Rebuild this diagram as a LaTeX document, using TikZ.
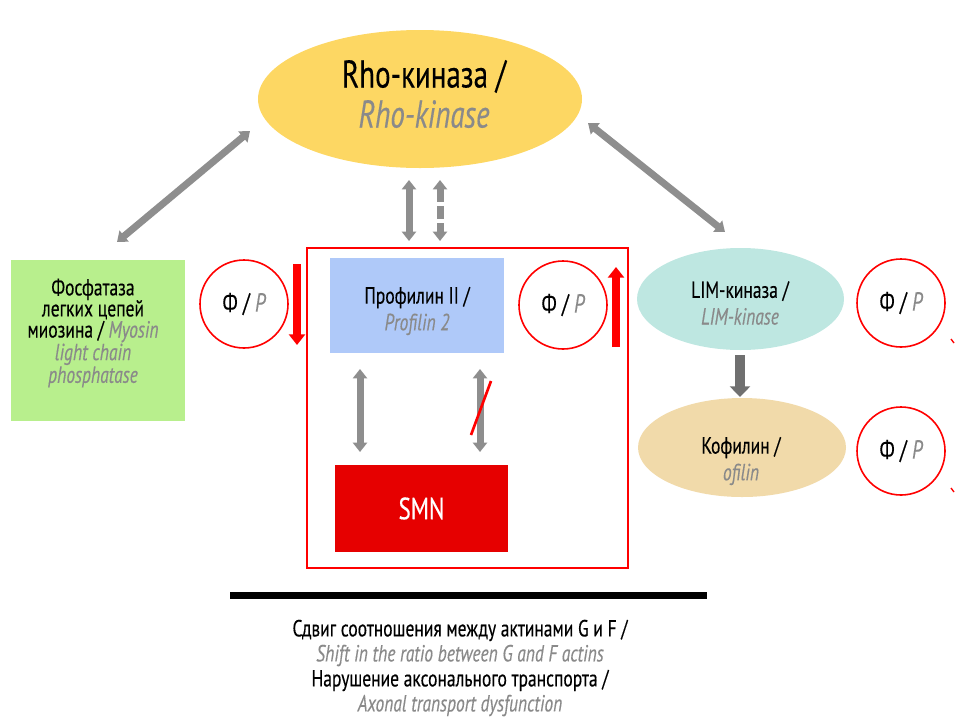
\documentclass[tikz,border=0pt]{standalone}
\usepackage{fontspec}
\setmainfont{PT Sans}[FakeStretch=0.75,FakeBold=0.3]
\usetikzlibrary{arrows.meta,shapes.geometric}
\definecolor{rhoY}{HTML}{FDD763}
\definecolor{mlcG}{HTML}{B8EF8D}
\definecolor{profB}{HTML}{AFC9F9}
\definecolor{limT}{HTML}{BEE7E1}
\definecolor{cofT}{HTML}{F1DAAA}
\definecolor{arrG}{HTML}{8E8E8E}
\definecolor{arrD}{HTML}{707070}
\definecolor{txtG}{HTML}{8A8A8A}
\definecolor{redL}{HTML}{FF0000}
\definecolor{smnR}{HTML}{E60000}
\newcommand{\en}[1]{{\color{txtG}\itshape #1}}
\newcommand{\fp}{Ф / \en{P}}
\tikzset{
  sz/.style={font=\fontsize{17.5}{20}\selectfont},
  phos/.style={circle, draw=redL, line width=1.2pt, minimum size=66pt, inner sep=0pt,
               font=\fontsize{19.5}{20}\selectfont},
  dbl/.style={arrG, line width=5.25pt, {Triangle[width=10.5pt,length=7pt]}-{Triangle[width=10.5pt,length=7pt]}},
  redarr/.style={redL, line width=6pt, -{Triangle[width=12pt,length=8pt]}},
}
\begin{document}
\begin{tikzpicture}[x=0.75pt,y=-0.75pt]
\useasboundingbox (0,0) rectangle (955,718);

% Rho-kinase
\node[ellipse, fill=rhoY, minimum width=243pt, minimum height=103.5pt, inner sep=0pt] (rho) at (420,99) {};
\node[align=center, font=\fontsize{29}{30}\selectfont] (rhot) at (424,94) {Rho-киназа /\\ \en{Rho-kinase}};

% MLC phosphatase
\node[fill=mlcG, minimum width=130.5pt, minimum height=120.75pt, inner sep=0pt] (mlc) at (98,340.5) {};
\node[align=center, font=\fontsize{17.5}{15.8}\selectfont] (mlct) at (93,333) {Фосфатаза\\легких цепей\\миозина / \en{Myosin}\\\en{light chain}\\\en{phosphatase}};

% frame
\draw[redL, line width=1.2pt] (307,248) rectangle (628,568);

% Profilin
\node[fill=profB, minimum width=130.5pt, minimum height=71.25pt, inner sep=0pt] (prof) at (417,305.5) {};
\node[align=center, sz] (proft) at (417,311) {Профилин II /\\ \en{Profilin 2}};

% SMN
\node[fill=smnR, minimum width=129.75pt, minimum height=65.25pt, inner sep=0pt, text=white,
      font=\fontsize{23}{24}\selectfont] (smn) at (421.5,508.5) {SMN};

% LIM kinase and cofilin
\node[ellipse, fill=limT, minimum width=155.25pt, minimum height=76.5pt, inner sep=0pt] (lim) at (740.5,299) {};
\node[align=center, sz] (limt) at (740,303) {LIM-киназа /\\ \en{LIM-kinase}};
\node[ellipse, fill=cofT, minimum width=156pt, minimum height=74.25pt, inner sep=0pt] (cof) at (742,447.5) {};
\node[align=center, sz] (coft) at (741,461) {Кофилин /\\ \en{ofilin}};

% phosphorylation circles
\node[phos] (p1) at (244,304) {\fp};
\node[phos] (p2) at (563,305) {\fp};
\node[phos] (p3) at (901,303) {\fp};
\node[phos] (p4) at (901,451) {\fp};

% gray double arrows
\coordinate (rl) at (250,131); \coordinate (ml) at (117,242);
\coordinate (rr) at (588,123); \coordinate (lr) at (725,232);
\draw[dbl] (rl) -- (ml);
\draw[dbl] (rr) -- (lr);
\coordinate (v1a) at (409,180); \coordinate (v1b) at (409,241);
\coordinate (v2a) at (440,180); \coordinate (v2b) at (440,241);
\draw[dbl] (v1a) -- (v1b);
\draw[dbl, dash pattern=on 10pt off 3pt, dash phase=0pt] (v2a) -- (v2b);
\coordinate (s1a) at (360,369); \coordinate (s1b) at (360,452);
\coordinate (s2a) at (480,369); \coordinate (s2b) at (480,452);
\draw[dbl] (s1a) -- (s1b);
\draw[dbl] (s2a) -- (s2b);
\draw[redL, line width=2pt] (471,435) -- (491,381);

% LIM -> cofilin
\coordinate (la) at (740,355); \coordinate (lb) at (740,397);
\draw[arrD, line width=7.5pt, -{Triangle[width=15pt,length=8pt]}] (la) -- (lb);

% red arrows
\coordinate (d1a) at (297,264); \coordinate (d1b) at (297,345);
\draw[redarr] (d1a) -- (d1b);
\coordinate (u1a) at (616,347); \coordinate (u1b) at (616,267);
\draw[redarr] (u1a) -- (u1b);
\draw[redL, line width=1pt] (951,339) -- (954,343);
\draw[redL, line width=1pt] (951,488) -- (954,492);

% bar and conclusion
\fill (230,592) rectangle (707,599);
\node[align=center, font=\fontsize{17.5}{18.75}\selectfont] (res) at (460,668)
  {Сдвиг соотношения между актинами G и F /\\ \en{Shift in the ratio between G and F actins}\\
   Нарушение аксонального транспорта /\\ \en{Axonal transport dysfunction}};
\end{tikzpicture}
\end{document}
